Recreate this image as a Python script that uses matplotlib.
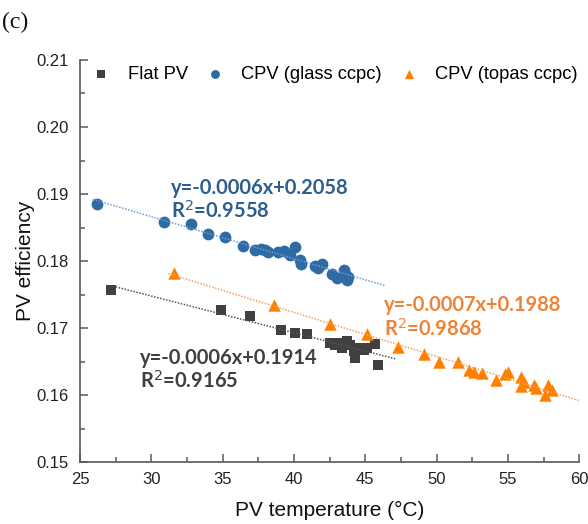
import numpy as np
import matplotlib
matplotlib.use("Agg")
import matplotlib.pyplot as plt
from matplotlib.ticker import MultipleLocator, FormatStrFormatter

# Flat PV module
flat_t = [27.2, 34.9, 36.9, 39.1, 40.1, 40.9, 42.5, 42.9, 43.1, 43.35, 43.7, 43.9,
          44.2, 44.3, 44.5, 44.9, 45.1, 45.7, 45.9]
flat_eff = [0.1756, 0.1727, 0.1718, 0.1697, 0.1693, 0.1691, 0.1677, 0.1675, 0.1678,
            0.1670, 0.1680, 0.1675, 0.1665, 0.1655, 0.1670, 0.1667, 0.1670, 0.1676, 0.1645]

# CPV with glass CCPC
glass_t = [26.2, 30.9, 32.8, 34.0, 35.2, 36.4, 37.3, 37.7, 38.0, 38.2, 38.9, 39.3,
           39.7, 40.1, 40.4, 40.5, 41.5, 41.7, 42.0, 42.7, 43.0, 43.5, 43.6, 43.7, 43.8]
glass_eff = [0.1885, 0.1858, 0.1855, 0.1840, 0.1836, 0.1822, 0.1816, 0.1818, 0.1816,
             0.1814, 0.1813, 0.1815, 0.1809, 0.1821, 0.1802, 0.1796, 0.1793, 0.1790,
             0.1796, 0.1781, 0.1775, 0.1787, 0.1781, 0.1772, 0.1776]

# CPV with Topas CCPC
topas_t = [31.6, 38.6, 42.5, 45.1, 47.3, 49.1, 50.2, 51.5, 52.3, 52.6, 53.2, 54.2,
           54.8, 55.0, 55.9, 55.9, 56.1, 56.8, 57.0, 57.6, 57.8, 58.1]
topas_eff = [0.1782, 0.1735, 0.1706, 0.1691, 0.1672, 0.1661, 0.1650, 0.1649, 0.1638,
             0.1635, 0.1633, 0.1623, 0.1631, 0.1634, 0.1627, 0.1613, 0.1620, 0.1615,
             0.1610, 0.1600, 0.1615, 0.1607]

# Trendline spans (°C)
flat_span = [27.5, 47.1]
glass_span = [25.9, 46.4]
topas_span = [31.2, 60.0]

flat_eq = ["y=-0.0006x+0.1914", "R$^2$=0.9165"]
glass_eq = ["y=-0.0006x+0.2058", "R$^2$=0.9558"]
topas_eq = ["y=-0.0007x+0.1988", "R$^2$=0.9868"]

c_flat = "#404040"
c_glass = "#2F6AA3"
c_topas = "#FF8000"
c_flat_txt = "#404040"
c_glass_txt = "#2D5F8E"
c_topas_txt = "#F08436"

plt.rcParams["font.family"] = ["Liberation Sans", "DejaVu Sans"]

fig = plt.figure(figsize=(5.88, 5.24), dpi=100)
ax = fig.add_axes([0.136, 0.1183, 0.849, 0.7672])

ax.scatter(flat_t, flat_eff, marker="s", s=46, color=c_flat, label="Flat PV",
           zorder=3, linewidths=0)
ax.scatter(glass_t, glass_eff, marker="o", s=72, color=c_glass, label="CPV (glass ccpc)",
           zorder=3, linewidths=0)
ax.scatter(topas_t, topas_eff, marker="^", s=80, color=c_topas, label="CPV (topas ccpc)",
           zorder=3, linewidths=0)

def trend(x, y, span, color):
    k, b = np.polyfit(x, y, 1)
    xs = np.array(span)
    ax.plot(xs, k * xs + b, linestyle=(0, (1, 1)), color=color, lw=1.1, zorder=4)

trend(flat_t, flat_eff, flat_span, "#555555")
trend(glass_t, glass_eff, glass_span, "#6A9BE0")
trend(topas_t, topas_eff, topas_span, "#F4A060")

eq_font = dict(family=["Lato", "DejaVu Sans"], fontweight="bold", fontsize=14.5)
ax.text(31.4, 0.1891, glass_eq[0] + "\n" + glass_eq[1], color=c_glass_txt,
        va="center", ha="left", linespacing=1.12, **eq_font)
ax.text(46.3, 0.1716, topas_eq[0] + "\n" + topas_eq[1], color=c_topas_txt,
        va="center", ha="left", linespacing=1.12, **eq_font)
ax.text(29.2, 0.1637, flat_eq[0] + "\n" + flat_eq[1], color=c_flat_txt,
        va="center", ha="left", linespacing=1.12, **eq_font)

ax.set_xlim(25, 60)
ax.set_ylim(0.15, 0.21)
ax.xaxis.set_major_locator(MultipleLocator(5))
ax.xaxis.set_minor_locator(MultipleLocator(2.5))
ax.yaxis.set_major_locator(MultipleLocator(0.01))
ax.yaxis.set_minor_locator(MultipleLocator(0.005))
ax.yaxis.set_major_formatter(FormatStrFormatter("%.2f"))

for side in ("top", "right"):
    ax.spines[side].set_visible(False)
for side in ("left", "bottom"):
    ax.spines[side].set_color("#595959")
    ax.spines[side].set_linewidth(1.2)
ax.tick_params(which="both", direction="in", color="#595959", width=1.1,
               labelsize=12, labelcolor="#222222")
ax.tick_params(which="major", length=6)
ax.tick_params(axis="y", which="major", pad=8)
ax.tick_params(axis="x", which="major", pad=7)
ax.tick_params(which="minor", length=3.5)

ax.set_xlabel("PV temperature (°C)", fontsize=15, color="#111111", labelpad=10)
ax.set_ylabel("PV efficiency", fontsize=15, color="#111111", labelpad=1)

ax.legend(loc="upper left", bbox_to_anchor=(0.021, 0.986), ncol=3, frameon=False,
          fontsize=13.2, handletextpad=0.85, columnspacing=0.85, borderaxespad=0,
          borderpad=0, markerscale=0.75, handlelength=1.2)

fig.text(0.003, 0.958, "(c)", fontsize=17, family=["Liberation Serif"], ha="left",
         va="center", color="#111111")

fig.savefig("out.png", dpi=100)
